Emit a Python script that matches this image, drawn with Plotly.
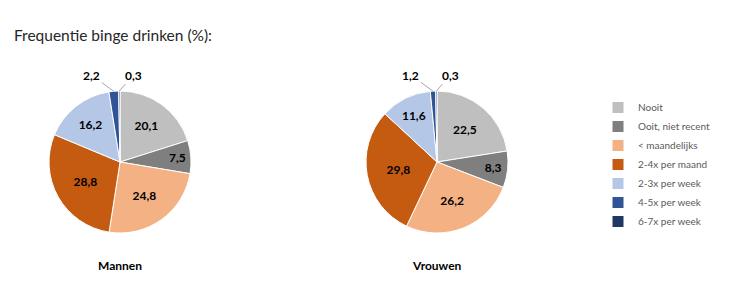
import math
import plotly.graph_objects as go

categories = ["Nooit", "Ooit, niet recent", "< maandelijks", "2-4x per maand",
              "2-3x per week", "4-5x per week", "6-7x per week"]
mannen = [20.1, 7.5, 24.8, 28.8, 16.2, 2.2, 0.3]
vrouwen = [22.5, 8.3, 26.2, 29.8, 11.6, 1.2, 0.3]
colors = ["#BFBFBF", "#7F7F7F", "#F4B183", "#C55A11", "#B4C7E7", "#2F5597", "#1F3864"]

W, H = 745, 302
FONT = "Lato"
D = 142      # pie diameter (px)
CY = 162     # pie centre y (px from top)
SMALL = 5    # slices below this get an outside label with a leader line


def fmt(v):
    return f"{v:.1f}".replace(".", ",")


def pie(values, cx, name, showlegend):
    return go.Pie(
        labels=categories, values=values, sort=False, direction="clockwise", rotation=0,
        text=[fmt(v) if v > SMALL else "" for v in values], texttemplate="%{text}",
        textinfo="text", textposition="inside", insidetextorientation="horizontal",
        textfont=dict(family=FONT, size=12, color="black", weight="bold"),
        marker=dict(colors=colors, line=dict(color="white", width=1)),
        domain=dict(x=[(cx - D / 2) / W, (cx + D / 2) / W],
                    y=[1 - (CY + D / 2) / H, 1 - (CY - D / 2) / H]),
        name=name, showlegend=showlegend, hoverinfo="label+value",
    )


def small_labels(values, cx):
    total = sum(values)
    anns = []
    cum = 0.0
    offsets = iter([(-22, -16), (14, -16)])
    for v in values:
        if v <= SMALL:
            th = 2 * math.pi * (cum + v / 2) / total
            px = cx + (D / 2) * math.sin(th)
            py = CY - (D / 2) * math.cos(th)
            ax, ay = next(offsets)
            anns.append(dict(
                text="<b>" + fmt(v) + "</b>", x=px / W, y=1 - py / H, xref="paper", yref="paper",
                showarrow=True, arrowhead=0, arrowwidth=1, arrowcolor="#A6A6A6",
                ax=ax, ay=ay, standoff=0,
                font=dict(size=12, color="black", family=FONT)))
        cum += v
    return anns


fig = go.Figure()
fig.add_trace(pie(mannen, 120, "Mannen", True))
fig.add_trace(pie(vrouwen, 437, "Vrouwen", False))

annotations = [
    dict(text="Frequentie binge drinken (%):", x=12 / W, y=1 - 35 / H, xref="paper", yref="paper",
         xanchor="left", yanchor="middle", showarrow=False,
         font=dict(size=15.5, color="#262626", family=FONT)),
    dict(text="<b>Mannen</b>", x=120 / W, y=1 - 265 / H, xref="paper", yref="paper",
         xanchor="center", yanchor="middle", showarrow=False,
         font=dict(size=12, color="black", family=FONT)),
    dict(text="<b>Vrouwen</b>", x=437 / W, y=1 - 265 / H, xref="paper", yref="paper",
         xanchor="center", yanchor="middle", showarrow=False,
         font=dict(size=12, color="black", family=FONT)),
]
annotations += small_labels(mannen, 120)
annotations += small_labels(vrouwen, 437)

fig.update_layout(
    width=W, height=H, margin=dict(l=0, r=0, t=0, b=0),
    paper_bgcolor="white", plot_bgcolor="white",
    font=dict(family=FONT),
    legend=dict(x=598 / W, y=1 - 93 / H, xanchor="left", yanchor="top",
                font=dict(size=10, color="#595959", family=FONT),
                itemwidth=30, traceorder="normal"),
    annotations=annotations,
)

fig.write_html("out.html")
